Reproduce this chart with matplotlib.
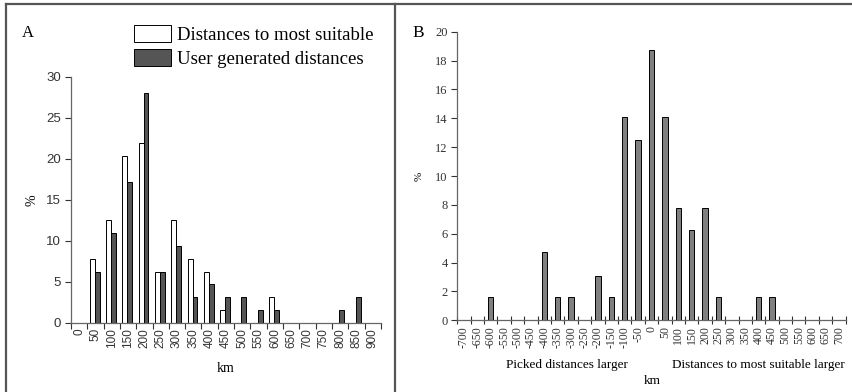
import numpy as np
import matplotlib
matplotlib.use("Agg")
import matplotlib.pyplot as plt
from matplotlib.lines import Line2D

plt.rcParams['font.family'] = ['Liberation Serif', 'DejaVu Serif']

# panel A data (percent)
catsA = [str(v) for v in range(0, 901, 50)]
suitable = [0, 7.8, 12.5, 20.3, 21.9, 6.25, 12.5, 7.8, 6.25, 1.6,
            0, 0, 3.1, 0, 0, 0, 0, 0, 0]
user = [0, 6.25, 10.9, 17.2, 28.1, 6.25, 9.4, 3.1, 4.7, 3.1,
        3.1, 1.6, 1.6, 0, 0, 0, 1.6, 3.1, 0]

# panel B data (percent)
catsB = [str(v) for v in range(-700, 701, 50)]
diff = [0, 0, 1.6, 0, 0, 0, 4.7, 1.6, 1.6, 0, 3.1, 1.6, 14.1, 12.5, 18.75,
        14.1, 7.8, 6.25, 7.8, 1.6, 0, 0, 1.6, 1.6, 0, 0, 0, 0, 0]

fig = plt.figure(figsize=(8.53, 3.92), dpi=100)

axis_col = '#666666'


def style(ax):
    for s in ['top', 'right']:
        ax.spines[s].set_visible(False)
    for s in ['left', 'bottom']:
        ax.spines[s].set_color(axis_col)
        ax.spines[s].set_linewidth(0.9)
    ax.tick_params(which='both', colors='#333333', width=0.8)


# ---- A ----
axA = fig.add_axes([0.0832, 0.1768, 0.3634, 0.6268])
xa = np.arange(len(catsA))
axA.bar(xa - 0.2, suitable, width=0.3, color='white', edgecolor='black', linewidth=0.7,
        label='Distances to most suitable')
axA.bar(xa + 0.1, user, width=0.3, color='#555555', edgecolor='black', linewidth=0.7,
        label='User generated distances')
axA.set_xlim(-0.5, len(catsA) - 0.5)
axA.set_ylim(0, 30)
axA.set_yticks(range(0, 31, 5))
axA.set_xticks(xa)
axA.set_xticklabels(catsA, rotation=90, fontsize=8.5, family=['Liberation Sans'])
axA.set_xticks(np.arange(-0.5, len(catsA)), minor=True)
axA.tick_params(axis='x', which='major', length=0, pad=4)
axA.tick_params(axis='x', which='minor', length=4, direction='out')
axA.tick_params(axis='y', length=4, direction='out', pad=3)
for t in axA.get_yticklabels():
    t.set_fontsize(9.5)
    t.set_family(['Liberation Sans'])
style(axA)
axA.set_xlabel('km', fontsize=10, labelpad=10)
axA.set_ylabel('%', fontsize=10, labelpad=6)
fig.legend(loc='upper left', bbox_to_anchor=(0.157, 0.935), frameon=False,
           fontsize=13.5, handlelength=2.0, handleheight=1.0, handletextpad=0.3,
           labelspacing=0.25, borderpad=0, borderaxespad=0)
fig.text(0.026, 0.915, 'A', fontsize=12, va='center')

# ---- B ----
axB = fig.add_axes([0.5361, 0.1829, 0.4553, 0.7362])
xb = np.arange(len(catsB))
axB.bar(xb, diff, width=0.4, color='#808080', edgecolor='black', linewidth=0.7)
axB.set_xlim(-0.5, len(catsB) - 0.5)
axB.set_ylim(0, 20)
axB.set_yticks(range(0, 21, 2))
axB.set_xticks(xb)
axB.set_xticklabels(catsB, rotation=90, fontsize=8.5)
axB.set_xticks(np.arange(-0.5, len(catsB)), minor=True)
axB.tick_params(axis='x', which='major', length=0, pad=4)
axB.tick_params(axis='x', which='minor', length=6, direction='inout')
axB.tick_params(axis='y', length=4, direction='out', labelsize=9, pad=3)
style(axB)
axB.set_ylabel('%', fontsize=8, labelpad=8)
fig.text(0.765, 0.02, 'km', fontsize=9.5, ha='center')
fig.text(0.665, 0.06, 'Picked distances larger', fontsize=9.5, ha='center')
fig.text(0.889, 0.06, 'Distances to most suitable larger', fontsize=9.5, ha='center')
fig.text(0.484, 0.915, 'B', fontsize=12.5, va='center')

# frame around the figure and divider
border = '#555555'
fig.add_artist(Line2D([0.007, 1.0], [0.99, 0.99], color=border, lw=1.6))
fig.add_artist(Line2D([0.007, 0.007], [0.0, 0.99], color=border, lw=1.6))
fig.add_artist(Line2D([0.4625, 0.4625], [0.0, 0.99], color=border, lw=1.6))

fig.savefig('out.png', dpi=100)
